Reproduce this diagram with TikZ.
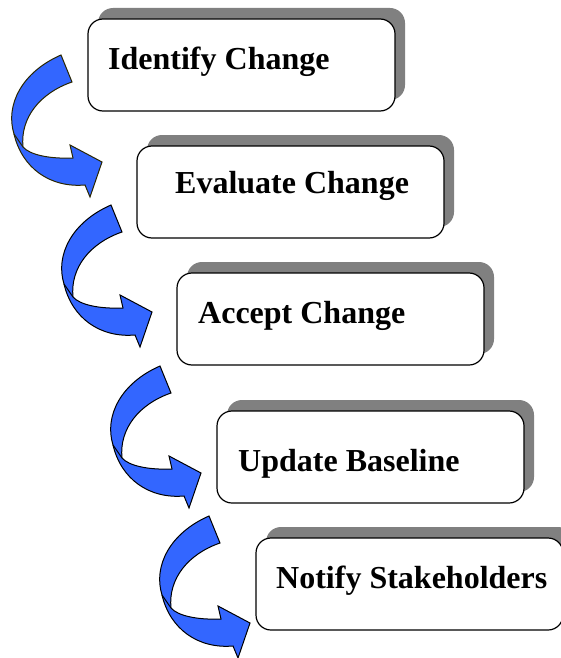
\documentclass[tikz,border=0pt]{standalone}
\usepackage{fontspec}
\setmainfont{Liberation Serif}
\usetikzlibrary{shadows}
\definecolor{arrowblue}{HTML}{3366FF}
\definecolor{shadowgray}{HTML}{808080}
\definecolor{olivedark}{HTML}{2A2600}
\tikzset{
  stepbox/.style={draw=black, line width=1.2pt, fill=white, rounded corners=15pt,
    minimum width=307pt, minimum height=92pt, inner sep=0pt, outer sep=0pt, anchor=north west,
    general shadow={fill=shadowgray, shadow xshift=10pt, shadow yshift=11pt}},
  steptext/.style={anchor=base west, inner sep=0pt, font=\bfseries\fontsize{32}{38}\selectfont},
  pics/curvarrow/.style={code={
    \draw[fill=arrowblue, draw=#1, line width=1pt, line join=miter]
      (61,55) -- (72,82) .. controls (40,93) and (20,118) .. (23,147)
      .. controls (30,155) and (50,159) .. (73,158) -- (70,145) -- (102,162) -- (90,197) -- (85,185)
      .. controls (50,188) and (22,168) .. (14,134)
      .. controls (5,105) and (22,72) .. (61,55) -- cycle;
    \draw[draw=#1, line width=1pt] (14,134) -- (23,147);
  }}
}
\begin{document}
\begin{tikzpicture}[x=1pt,y=-1pt]
\useasboundingbox (0,0) rectangle (561,658);
\fill[white] (0,0) rectangle (561,658);
\node[stepbox] (b1) at (88,19) {};
\node[stepbox] (b2) at (137,146) {};
\node[stepbox] (b3) at (177,273) {};
\node[stepbox] (b4) at (217,411) {};
\node[stepbox] (b5) at (256,538) {};
\node[steptext] (t1) at (108,70) {Identify Change};
\node[steptext] (t2) at (175,193) {Evaluate Change};
\node[steptext] (t3) at (198,323) {Accept Change};
\node[steptext] (t4) at (238,471) {Update Baseline};
\node[steptext] (t5) at (276,588) {Notify Stakeholders};
\pic at (0,0) {curvarrow=olivedark};
\pic at (50,150) {curvarrow=black};
\pic at (99,311) {curvarrow=black};
\pic at (148,461) {curvarrow=black};
\end{tikzpicture}
\end{document}
